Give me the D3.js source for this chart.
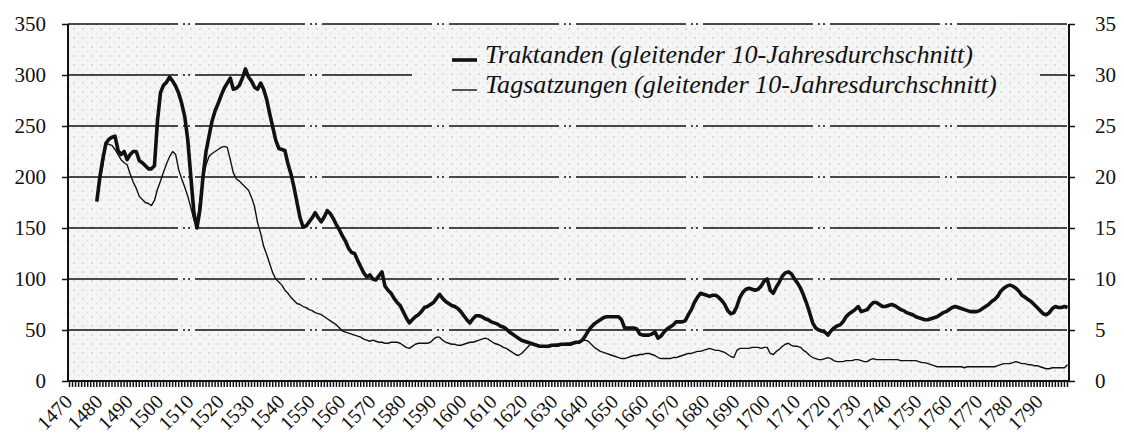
<!DOCTYPE html>
<html>
<head>
<meta charset="utf-8">
<script src="https://cdn.jsdelivr.net/npm/d3@7"></script>
<style>
  body { margin: 0; background: #fff; }
  svg { display: block; }
</style>
</head>
<body>
<svg width="1124" height="437"></svg>
<script>
// 10-year moving averages, one value per year starting at firstYear
const firstYear = 1479;

// Traktanden, left axis
const traktanden = [
  176, 200, 218, 233, 237, 239, 240, 226, 222, 225,
  217, 222, 225, 225, 216, 214, 211, 208, 208, 211,
  255, 283, 290, 293, 298, 294, 289, 282, 272, 259,
  236, 200, 165, 150, 168, 200, 225, 240, 255, 265,
  272, 280, 287, 292, 297, 286, 287, 290, 297, 306,
  298, 294, 288, 286, 292, 286, 276, 262, 249, 236,
  228, 227, 226, 213, 203, 190, 175, 160, 151, 152,
  156, 160, 165, 160, 156, 161, 167, 164, 159, 153,
  148, 142, 137, 130, 126, 125, 118, 112, 106, 102,
  104, 100, 99, 103, 107, 93, 89, 86, 81, 77,
  74, 68, 62, 57, 60, 63, 65, 68, 72, 73,
  75, 77, 81, 85, 81, 78, 76, 74, 73, 71,
  68, 64, 60, 57, 61, 64, 64, 63, 61, 60,
  58, 57, 56, 54, 53, 51, 48, 46, 44, 42,
  40, 39, 38, 37, 36, 35, 34, 34, 34, 34,
  35, 35, 35, 36, 36, 36, 36, 37, 38, 38,
  40, 44, 49, 53, 56, 58, 60, 62, 63, 63,
  63, 63, 63, 60, 52, 52, 52, 52, 51, 46,
  45, 45, 45, 46, 48, 42, 44, 48, 51, 53,
  55, 58, 58, 58, 59, 65, 70, 77, 82, 86,
  85, 84, 83, 84, 84, 82, 79, 75, 69, 66,
  67, 73, 82, 87, 90, 91, 90, 89, 90, 93,
  98, 100, 89, 86, 92, 97, 103, 106, 107, 105,
  100, 96, 91, 84, 76, 67, 57, 52, 50, 49,
  48, 45, 49, 52, 54, 55, 58, 63, 66, 68,
  70, 73, 68, 69, 70, 74, 77, 77, 75, 73,
  73, 74, 75, 74, 72, 70, 69, 67, 66, 65,
  63, 62, 61, 60, 60, 61, 62, 63, 65, 67,
  68, 70, 72, 73, 72, 71, 70, 69, 68, 68,
  68, 69, 71, 73, 75, 78, 80, 83, 88, 91,
  93, 94, 93, 91, 88, 84, 82, 80, 78, 75,
  72, 69, 66, 65, 67, 71, 73, 72, 72, 73, 72
];

// Tagsatzungen, right axis
const tagsatzungen = [
  17.6, 19.5, 21.2, 23.3, 23.2, 23.1, 22.7, 22.2, 21.7, 21.4,
  21.2, 20.3, 19.5, 18.9, 18.1, 17.8, 17.5, 17.4, 17.2, 17.7,
  18.8, 19.6, 20.5, 21.3, 22.0, 22.5, 22.2, 20.7, 19.8, 19.0,
  18.1, 17.0, 15.8, 15.1, 17.8, 19.8, 21.2, 22.0, 22.3, 22.5,
  22.7, 22.9, 23.0, 22.9, 21.7, 20.4, 19.8, 19.6, 19.3, 19.0,
  18.7, 18.0, 17.1, 15.5, 14.5, 13.2, 12.4, 11.5, 10.6, 10.0,
  9.7, 9.4, 8.9, 8.6, 8.2, 7.9, 7.6, 7.5, 7.3, 7.2,
  7.0, 6.9, 6.7, 6.6, 6.5, 6.3, 6.1, 5.9, 5.7, 5.5,
  5.2, 4.9, 4.8, 4.7, 4.6, 4.5, 4.4, 4.3, 4.1, 4.0,
  3.9, 4.0, 3.9, 3.8, 3.8, 3.7, 3.7, 3.8, 3.8, 3.8,
  3.7, 3.5, 3.3, 3.2, 3.4, 3.6, 3.7, 3.7, 3.7, 3.7,
  3.8, 4.1, 4.3, 4.3, 4.0, 3.8, 3.7, 3.6, 3.6, 3.5,
  3.5, 3.6, 3.7, 3.8, 3.8, 3.9, 4.0, 4.1, 4.2, 4.1,
  3.9, 3.7, 3.6, 3.5, 3.3, 3.2, 3.0, 2.8, 2.6, 2.5,
  2.7, 3.0, 3.3, 3.6, 3.6, 3.5, 3.4, 3.4, 3.4, 3.5,
  3.5, 3.6, 3.6, 3.6, 3.6, 3.7, 3.7, 3.8, 3.8, 3.9,
  4.0, 4.0, 3.9, 3.6, 3.3, 3.1, 2.9, 2.8, 2.7, 2.6,
  2.5, 2.4, 2.3, 2.2, 2.2, 2.3, 2.4, 2.5, 2.5, 2.6,
  2.6, 2.7, 2.7, 2.6, 2.5, 2.3, 2.2, 2.2, 2.2, 2.2,
  2.3, 2.3, 2.4, 2.5, 2.6, 2.7, 2.7, 2.8, 2.9, 2.9,
  3.0, 3.1, 3.2, 3.1, 3.0, 3.0, 2.9, 2.8, 2.6, 2.4,
  2.3, 3.0, 3.2, 3.2, 3.2, 3.2, 3.3, 3.3, 3.3, 3.2,
  3.3, 3.3, 2.7, 2.6, 2.9, 3.1, 3.4, 3.6, 3.7, 3.5,
  3.4, 3.4, 3.3, 3.0, 2.8, 2.5, 2.3, 2.2, 2.1, 2.1,
  2.2, 2.3, 2.2, 2.0, 1.9, 1.9, 1.9, 2.0, 2.0, 2.0,
  2.1, 2.1, 2.0, 1.9, 1.9, 2.1, 2.2, 2.1, 2.1, 2.1,
  2.1, 2.1, 2.1, 2.1, 2.1, 2.0, 2.0, 2.0, 2.0, 2.0,
  2.0, 1.9, 1.8, 1.8, 1.7, 1.6, 1.5, 1.4, 1.4, 1.4,
  1.4, 1.4, 1.4, 1.4, 1.4, 1.4, 1.3, 1.4, 1.4, 1.4,
  1.4, 1.4, 1.4, 1.4, 1.4, 1.4, 1.4, 1.5, 1.6, 1.7,
  1.7, 1.7, 1.8, 1.9, 1.8, 1.7, 1.7, 1.6, 1.6, 1.5,
  1.5, 1.4, 1.3, 1.2, 1.2, 1.3, 1.3, 1.3, 1.3, 1.3, 1.6
];

const leftTicks = [0, 50, 100, 150, 200, 250, 300, 350];
const rightTicks = [0, 5, 10, 15, 20, 25, 30, 35];
const yearLabels = [1470, 1480, 1490, 1500, 1510, 1520, 1530, 1540, 1550, 1560, 1570,
  1580, 1590, 1600, 1610, 1620, 1630, 1640, 1650, 1660, 1670, 1680, 1690, 1700,
  1710, 1720, 1730, 1740, 1750, 1760, 1770, 1780, 1790];
const seriesNames = ['Traktanden (gleitender 10-Jahresdurchschnitt)',
  'Tagsatzungen (gleitender 10-Jahresdurchschnitt)'];

const svg = d3.select('svg');
const font = "'Liberation Serif', 'DejaVu Serif', serif";
const plotL = 68, plotR = 1069, plotT = 24, plotB = 381;

const years = d3.range(1470, 1800);
const x = d3.scaleBand().domain(years).range([plotL, plotR]);
const y = d3.scaleLinear().domain([0, 350]).range([plotB, plotT]);
const y2 = d3.scaleLinear().domain([0, 35]).range([plotB, plotT]);
const cx = yr => x(yr) + x.bandwidth() / 2;

// dotted paper background
const pat = svg.append('defs').append('pattern')
  .attr('id', 'dots').attr('width', 9).attr('height', 9)
  .attr('patternUnits', 'userSpaceOnUse');
pat.append('rect').attr('width', 9).attr('height', 9).attr('fill', '#f5f5f5');
pat.append('circle').attr('cx', 2).attr('cy', 2).attr('r', 1).attr('fill', '#d4d4d4');
pat.append('circle').attr('cx', 6.5).attr('cy', 6.5).attr('r', 0.8).attr('fill', '#dcdcdc');

svg.append('rect')
  .attr('x', plotL).attr('y', plotT)
  .attr('width', plotR - plotL).attr('height', plotB - plotT)
  .attr('fill', 'url(#dots)');

// gridlines
svg.append('g').selectAll('line')
  .data(leftTicks.filter(d => d > 0))
  .join('line')
  .attr('x1', plotL).attr('x2', plotR)
  .attr('y1', d => y(d)).attr('y2', d => y(d))
  .attr('stroke', '#111')
  .attr('stroke-width', 1.6)
  .attr('stroke-dasharray', '110,5,2,3,2,5');

// legend box hides the gridline behind it
svg.append('rect')
  .attr('x', 412).attr('y', 36)
  .attr('width', 628).attr('height', 80)
  .attr('fill', 'url(#dots)');

// lines
const trakLine = d3.line()
  .x((d, i) => cx(firstYear + i))
  .y(d => y(d));
const tagLine = d3.line()
  .x((d, i) => cx(firstYear + i))
  .y(d => y2(d));

svg.append('path')
  .datum(tagsatzungen)
  .attr('d', tagLine)
  .attr('fill', 'none')
  .attr('stroke', '#111')
  .attr('stroke-width', 1.4)
  .attr('stroke-linejoin', 'round');

svg.append('path')
  .datum(traktanden)
  .attr('d', trakLine)
  .attr('fill', 'none')
  .attr('stroke', '#111')
  .attr('stroke-width', 3.6)
  .attr('stroke-linejoin', 'round');

// axes
const leftAxis = svg.append('g')
  .attr('transform', `translate(${plotL},0)`)
  .call(d3.axisLeft(y).tickValues(leftTicks).tickSize(6).tickPadding(16));
const rightAxis = svg.append('g')
  .attr('transform', `translate(${plotR},0)`)
  .call(d3.axisRight(y2).tickValues(rightTicks).tickSize(6).tickPadding(20));
const bottomAxis = svg.append('g')
  .attr('transform', `translate(0,${plotB})`)
  .call(d3.axisBottom(x).tickValues(years).tickSize(6).tickFormat(''));

[leftAxis, rightAxis, bottomAxis].forEach(g => {
  g.select('.domain').attr('stroke', '#111').attr('stroke-width', 2);
  g.selectAll('.tick line').attr('stroke', '#111').attr('stroke-width', 1.5);
  g.selectAll('.tick text')
    .attr('fill', '#111')
    .style('font-family', font)
    .style('font-size', '21px');
});
leftAxis.select('.domain').attr('d', `M0,${plotB}V${plotT}`);
rightAxis.select('.domain').attr('d', `M0,${plotB}V${plotT}`);
bottomAxis.select('.domain').attr('d', `M${plotL},0H${plotR}`);

// rotated year labels
svg.append('g').selectAll('text')
  .data(yearLabels)
  .join('text')
  .attr('transform', d => `translate(${cx(d) + 4},${plotB + 22}) rotate(-45)`)
  .attr('text-anchor', 'end')
  .style('font-family', font)
  .style('font-size', '20px')
  .attr('fill', '#111')
  .text(d => d);

// legend
const legend = svg.append('g');
const lg = legend.selectAll('g')
  .data(seriesNames)
  .join('g')
  .attr('transform', (d, i) => `translate(452,${63 + i * 30})`);
lg.append('line')
  .attr('x1', 0).attr('x2', 25)
  .attr('y1', -3).attr('y2', -3)
  .attr('stroke', '#111')
  .attr('stroke-width', (d, i) => i === 0 ? 3.6 : 1.4);
const lt = lg.append('text')
  .attr('x', 33)
  .style('font-family', font)
  .style('font-style', 'italic')
  .style('font-size', '22px')
  .attr('fill', '#111')
  .text(d => d);
const w0 = lt.node().getComputedTextLength();
lt.style('font-size', (22 * 488 / w0).toFixed(1) + 'px');
</script>
</body>
</html>
